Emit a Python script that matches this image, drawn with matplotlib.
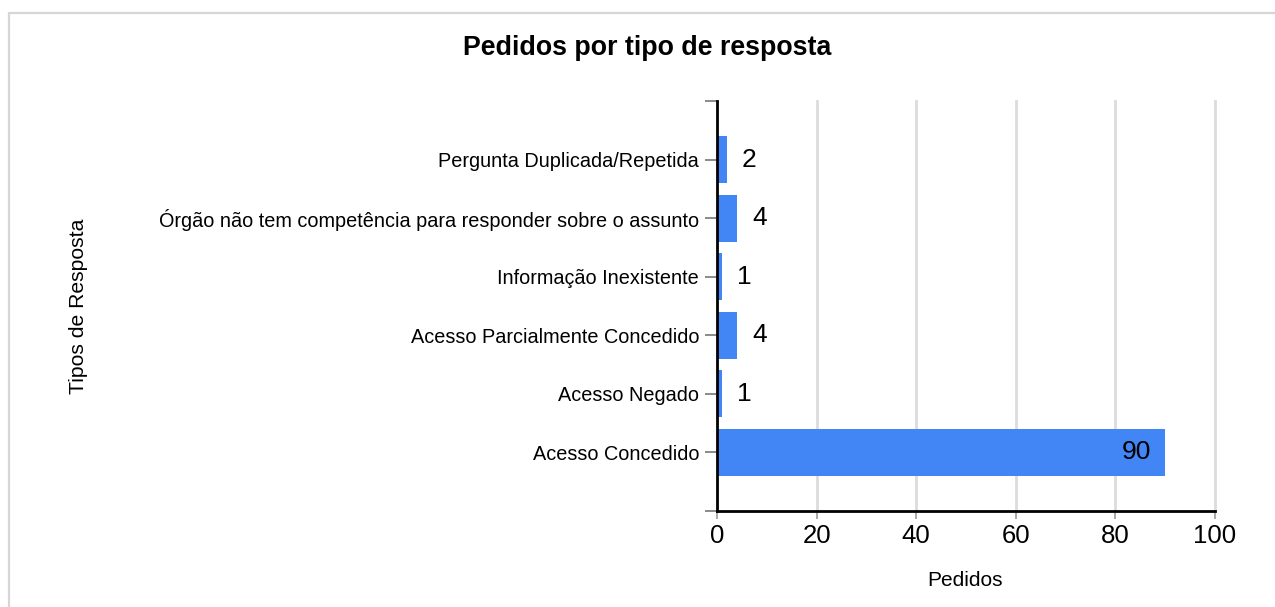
import matplotlib
matplotlib.use("Agg")
import matplotlib.pyplot as plt
from matplotlib.patches import Rectangle

plt.rcParams['font.family'] = ['Liberation Sans', 'DejaVu Sans']

categories = [
    "Acesso Concedido",
    "Acesso Negado",
    "Acesso Parcialmente Concedido",
    "Informação Inexistente",
    "Órgão não tem competência para responder sobre o assunto",
    "Pergunta Duplicada/Repetida",
]
values = [90, 1, 4, 1, 4, 2]
x_ticks = [0, 20, 40, 60, 80, 100]

bar_color = "#4285f4"
grid_color = "#dcdcdc"

fig = plt.figure(figsize=(12.75, 6.07), dpi=100)
fig.patch.set_facecolor("white")

# card border
fig.patches.append(Rectangle((9 / 1275, -0.05), 1.2, 1 - 13 / 607 + 0.05,
                             transform=fig.transFigure, fill=False,
                             edgecolor="#d6d6d6", linewidth=1.6, zorder=0))

ax = fig.add_axes([717 / 1275, 1 - 511 / 607, (1215 - 717) / 1275, (511 - 101) / 607])

ypos = list(range(len(categories)))
ax.barh(ypos, values, height=0.8, color=bar_color, zorder=3)

ax.set_xlim(0, 100)
ax.set_ylim(-1, 6)
ax.set_xticks(x_ticks)
ax.set_xticklabels([str(t) for t in x_ticks], fontsize=18.5)
ax.set_yticks([-1] + ypos + [6])
ax.set_yticklabels([""] + categories + [""], fontsize=14.3)

ax.tick_params(axis="y", length=8.6, width=1.2, color="#777777", pad=4.3)
ax.tick_params(axis="x", length=5.5, width=1.2, color="#999999", pad=4)

for t in x_ticks[1:]:
    ax.axvline(t, color=grid_color, linewidth=2, zorder=1, clip_on=False)

for s in ["top", "right"]:
    ax.spines[s].set_visible(False)
for s in ["left", "bottom"]:
    ax.spines[s].set_linewidth(2)
    ax.spines[s].set_color("black")
    ax.spines[s].set_zorder(4)

for y, v in zip(ypos, values):
    if v >= 20:
        ax.annotate(str(v), xy=(v, y), xytext=(-14, 0), textcoords="offset pixels",
                    ha="right", va="center", fontsize=19, color="black", zorder=5)
    else:
        ax.annotate(str(v), xy=(v, y), xytext=(15, 0), textcoords="offset pixels",
                    ha="left", va="center", fontsize=19, color="black", zorder=5)

fig.text(647 / 1275, 1 - 48 / 607, "Pedidos por tipo de resposta",
         ha="center", va="center", fontsize=19.3, fontweight="bold")
fig.text(78 / 1275, 1 - 306 / 607, "Tipos de Resposta", rotation=90,
         ha="center", va="center", fontsize=15.2)
fig.text(965 / 1275, 1 - 580 / 607, "Pedidos", ha="center", va="center", fontsize=15)

fig.savefig("out.png", dpi=100, facecolor="white")
